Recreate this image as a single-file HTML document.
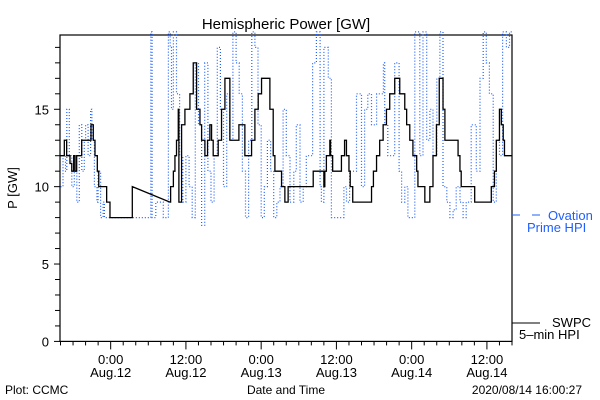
<!DOCTYPE html>
<html><head><meta charset="utf-8"><style>
body{margin:0;background:#fff;}
svg{display:block;font-family:"Liberation Sans",sans-serif;}
</style></head><body>
<svg id="chart" width="600" height="400" viewBox="0 0 600 400">
<text x="286" y="29" font-size="15" text-anchor="middle">Hemispheric Power [GW]</text>
<text x="0" y="0" font-size="13" text-anchor="middle" transform="translate(17,188) rotate(-90)">P [GW]</text>
<text x="5" y="394" font-size="12">Plot: CCMC</text>
<text x="286" y="394" font-size="12" text-anchor="middle">Date and Time</text>
<text x="582" y="394" font-size="12" text-anchor="end">2020/08/14 16:00:27</text>
<g id="axes"></g>
<g id="series"></g>
<g>
<line x1="512" y1="215" x2="520" y2="215" stroke="#1f5fff"/>
<line x1="532" y1="215" x2="540" y2="215" stroke="#1f5fff"/>
<text x="548" y="220" font-size="13" fill="#1f5fff">Ovation</text>
<text x="527" y="232" font-size="13" fill="#1f5fff">Prime HPI</text>
<line x1="512" y1="323" x2="540" y2="323" stroke="#000"/>
<text x="552" y="327" font-size="13">SWPC</text>
<text x="519" y="339" font-size="13">5–min HPI</text>
</g>
</svg>
<script>
// hours relative to Aug.12 0:00
const swpcTimes = [-8.08,-7.39,-7.02,-6.49,-6.2,-5.9,-5.68,-5.42,-4.62,-3.29,-3.14,-2.77,-2.5,-2.13,-1.9,-0.64,-0.11,3.07,3.45,9.45,9.56,10.0,10.25,10.5,10.78,10.88,11.31,11.84,12.64,13.17,13.7,14.24,14.5,15.03,15.45,15.82,16.09,16.35,16.88,17.15,17.68,18.22,18.64,19.01,20.24,20.45,21.14,21.4,22.1,22.47,23.0,23.53,24.06,24.86,25.39,25.92,26.19,26.83,27.25,27.78,28.3,32.2,32.3,33.9,34.0,34.15,34.4,34.95,35.06,35.4,36.5,36.8,37.3,37.6,38.0,38.2,38.6,41.3,41.6,41.9,42.4,42.9,43.45,43.98,44.5,45.3,45.8,46.1,46.9,47.2,47.7,48.2,48.8,49.0,50.1,50.6,50.9,51.4,51.95,52.4,52.7,53.0,53.3,55.1,55.4,55.7,55.9,57.8,58.05,60.3,60.7,61.2,61.5,62.0,62.3,62.6,62.8,64.0];
const swpcValues = [12,13,12,11.5,11,12,11,12,13,13,14,13,12,11,10,9,8,8,10,9,10,11,12,13,15,9,14,15,16,18,15,14,13,12,13,14,13,12,12,13,15,17,17,13,13,14,14,12,12,13,15,16,17,17,15,12,11,11,10,9,10,10,11,11,10,11,12,13,12,11,11,12,13,12,11,10,9,9,10,11,12,13,14,15,16,17,17,16,15,14,13,12,11,10,9,9,10,12,14,17,17,15,13,13,12,11,10,10,9,9,10,11,13,15,14,13,12,12];
const ovationTimes = [-8,-7.6,-7.2,-7,-6.6,-6.2,-5.8,-5.4,-5,-4.6,-4.2,-4,-3.6,-3.2,-3,-2.6,-2.2,-2,-1.6,-1.2,-1,-0.5,0,1,2,3,4,5,6,6.4,6.6,6.9,7.2,8,8.4,8.8,9.2,9.5,9.7,10,10.5,11,11.5,12,12.5,13,13.5,14,14.5,15,15.5,16,16.5,17,17.5,18,18.5,19,19.5,20,20.5,21,21.5,22,22.5,23,23.5,24,24.5,25,25.5,26,26.5,27,27.5,28,28.6,29.2,29.6,30.2,30.7,31.2,32.2,32.8,33.4,33.6,34,34.7,35.2,35.7,36.4,37.2,37.6,38.1,39.2,40,40.5,41,41.6,42.4,43,43.5,43.7,44.2,44.8,45.3,46,46.4,46.9,47.4,48,48.5,49.3,49.8,50.4,50.9,51.4,52,52.5,53,53.6,54.1,54.6,55.1,55.7,56.2,56.7,57.5,58.3,58.9,59.4,59.9,60.4,61,61.5,62,62.5,63.1,63.6,64];
const ovationValues = [10,12,11,15,12,10,11,9,14,11,13,14,12,15,13,10,9,11,8,9,8,8,8,8,8,8,8,8,8,20,8,8,9,9,8,8,20,19,15,20,16,12,9,12,10,8,18,14,7.5,18,11,9,12,19,15,10,16,13,20,18,16,11,8,13,20,19,14,8,10,13,11,8,9,10,15,12,9,11,14,9,10,12,18,20,10,9,19,17,8,8,8,10,9,11,16,10,15,16,14,16,16,18,14,12,12,18,11,9,10,8,8,20,12,20,13,15,12,17,20,10,9,8,8.5,10,9,8,9,14,11,17,20,18,16,9,13,12,20,19,20];
const yTickValues=[0,1,2,3,4,5,6,7,8,9,10,11,12,13,14,15,16,17,18,19];
const yLabelValues=[0,5,10,15];
const xMajorHours=[0,12,24,36,48,60];
const xMajorLabels=[["0:00","Aug.12"],["12:00","Aug.12"],["0:00","Aug.13"],["12:00","Aug.13"],["0:00","Aug.14"],["12:00","Aug.14"]];

const L=60,R=512,T=35,B=341.4,tMin=-8.08,tMax=64,yMax=19.8;
const X=t=>L+(t-tMin)/(tMax-tMin)*(R-L);
const Y=v=>B-v/yMax*(B-T);
const NS="http://www.w3.org/2000/svg";
function mk(tag,attrs,parent){const e=document.createElementNS(NS,tag);for(const k in attrs)e.setAttribute(k,attrs[k]);parent.appendChild(e);return e;}
const axes=document.getElementById('axes'),series=document.getElementById('series');

const frame=mk('rect',{x:L,y:T,width:R-L,height:B-T,fill:'none',stroke:'#000','stroke-width':1.2},axes);


yTickValues.forEach(v=>{
  const big=yLabelValues.includes(v);
  const t=mk('line',{x1:L-(big?6:5),x2:L,y1:Y(v),y2:Y(v),stroke:'#000'},axes);
  
  
});
yLabelValues.forEach(v=>{
  const t=mk('text',{x:L-11,y:Y(v)+5,'font-size':13,'text-anchor':'end'},axes);t.textContent=v;
  
  
});
for(let h=-8;h<=64;h+=2){
  const big=xMajorHours.includes(h);
  const t=mk('line',{x1:X(h),x2:X(h),y1:B,y2:B+(big?8:4),stroke:'#000'},axes);
  
  
}
xMajorHours.forEach((h,i)=>{
  const t=mk('text',{x:X(h),y:364,'font-size':13,'text-anchor':'middle'},axes);t.textContent=xMajorLabels[i][0];
  
  
  const d=mk('text',{x:X(h),y:377,'font-size':13,'text-anchor':'middle'},axes);d.textContent=xMajorLabels[i][1];
  
  
});

let pb='M'+X(ovationTimes[0]).toFixed(1)+','+Y(ovationValues[0]).toFixed(1);
for(let i=1;i<ovationTimes.length;i++){
  pb+='L'+X(ovationTimes[i]).toFixed(1)+','+Y(ovationValues[i-1]).toFixed(1)+'L'+X(ovationTimes[i]).toFixed(1)+','+Y(ovationValues[i]).toFixed(1);
}
const ov=mk('path',{d:pb,fill:'none',stroke:'#1f5fff','stroke-width':1.2,'stroke-dasharray':'1,2'},series);



let p='M'+X(swpcTimes[0])+','+Y(swpcValues[0]);
for(let i=1;i<swpcTimes.length;i++){
  if(swpcTimes[i]-swpcTimes[i-1]>2){p+='L'+X(swpcTimes[i])+','+Y(swpcValues[i]);}
  else{p+='L'+X(swpcTimes[i])+','+Y(swpcValues[i-1])+'L'+X(swpcTimes[i])+','+Y(swpcValues[i]);}
}
const sw=mk('path',{d:p,fill:'none',stroke:'#000','stroke-width':1.3},series);


</script>
</body></html>
